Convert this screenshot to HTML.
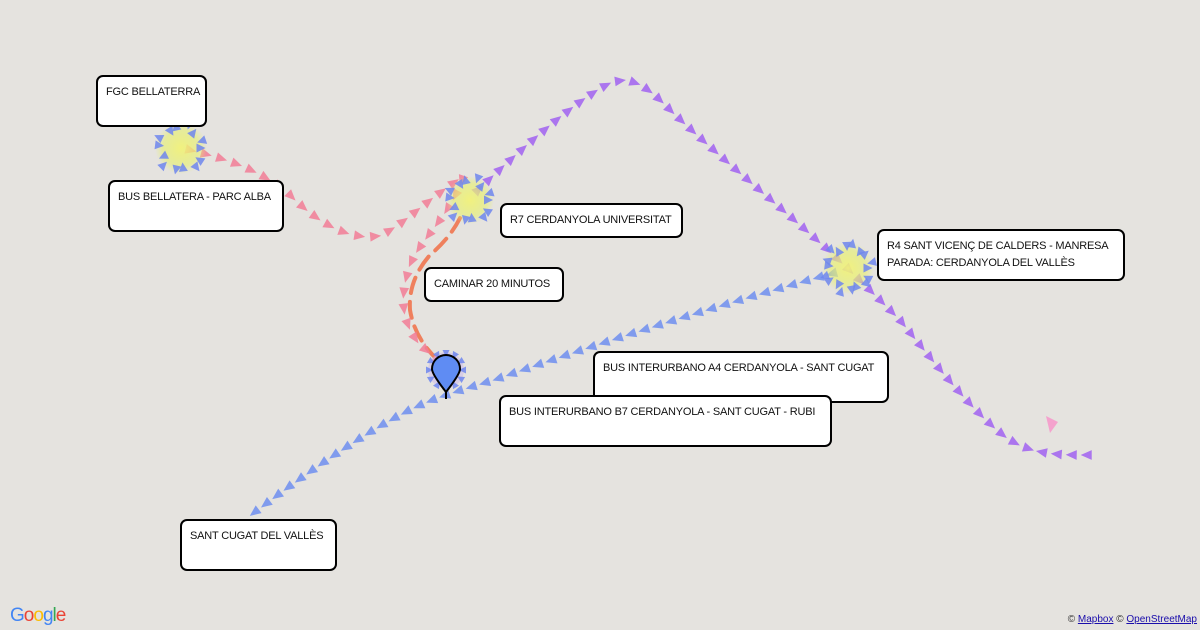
<!DOCTYPE html>
<html><head><meta charset="utf-8"><style>
html,body{margin:0;padding:0;width:1200px;height:630px;overflow:hidden;background:#e5e3df;font-family:"Liberation Sans",sans-serif}
.lb{position:absolute;background:#fff;border:2px solid #000;border-radius:7px;font-size:11px;color:#111;padding:7px 8px;box-sizing:border-box;line-height:17px;letter-spacing:-0.2px;white-space:nowrap}
svg{position:absolute;left:0;top:0}
</style></head><body>
<svg id="s" width="1200" height="630" viewBox="0 0 1200 630">
<defs>
<radialGradient id="g"><stop offset="0" stop-color="#f2f27a" stop-opacity="0.95"/><stop offset="0.7" stop-color="#e6f070" stop-opacity="0.6"/><stop offset="1" stop-color="#e6f070" stop-opacity="0"/></radialGradient>
</defs>
<path id="walk" d="M460,218 Q450,238 430,255 Q408,280 410,310 Q415,340 440,362" fill="none" stroke="#ef7a55" stroke-width="4" stroke-dasharray="16,9" stroke-linecap="round" opacity="0.95"/>
<g id="tri"></g>
<path d="M1046,416 L1058,422 L1050,433 Z" fill="#f59acb" opacity="0.9"/>
<g id="stars"></g>
<g transform="translate(446,372)">
<path d="M0,27 L0,20 Q-14,2 -14,-3 A14,14 0 1 1 14,-3 Q14,2 0,20" fill="#5f8cf3" stroke="#000" stroke-width="2"/>
</g>
</svg>
<div class="lb" style="left:96px;top:75px;width:111px;height:52px">FGC BELLATERRA</div>
<div class="lb" style="left:108px;top:180px;width:176px;height:52px">BUS BELLATERA - PARC ALBA</div>
<div class="lb" style="left:500px;top:203px;width:183px;height:35px">R7 CERDANYOLA UNIVERSITAT</div>
<div class="lb" style="left:424px;top:267px;width:140px;height:35px">CAMINAR 20 MINUTOS</div>
<div class="lb" style="left:877px;top:229px;width:248px;height:52px">R4 SANT VICENÇ DE CALDERS - MANRESA<br>PARADA: CERDANYOLA DEL VALLÈS</div>
<div class="lb" style="left:593px;top:351px;width:296px;height:52px">BUS INTERURBANO A4 CERDANYOLA - SANT CUGAT</div>
<div class="lb" style="left:499px;top:395px;width:333px;height:52px">BUS INTERURBANO B7 CERDANYOLA - SANT CUGAT - RUBI</div>
<div class="lb" style="left:180px;top:519px;width:157px;height:52px">SANT CUGAT DEL VALLÈS</div>
<div style="position:absolute;left:10px;top:605px;font-size:19px;font-family:'Liberation Sans',sans-serif;letter-spacing:-1px"><span style="color:#4285f4">G</span><span style="color:#ea4335">o</span><span style="color:#fbbc05">o</span><span style="color:#4285f4">g</span><span style="color:#34a853">l</span><span style="color:#ea4335">e</span></div>
<div style="position:absolute;right:3px;top:614px;font-size:10px;color:#333">© <u style="color:#1a0dab">Mapbox</u> © <u style="color:#1a0dab">OpenStreetMap</u></div>
<script>
var NS="http://www.w3.org/2000/svg",svg=document.getElementById('s'),G=document.getElementById('tri');
function line(d,col,gap,rev,sz,op,revFrom){
 var p=document.createElementNS(NS,'path');p.setAttribute('d',d);p.setAttribute('fill','none');svg.appendChild(p);
 var L=p.getTotalLength();
 for(var l=0;l<=L;l+=gap){var a=p.getPointAtLength(l),b=p.getPointAtLength(Math.min(L,l+1)),c=p.getPointAtLength(Math.max(0,l-1));
  var r=rev||(revFrom&&a.x>revFrom);
  var ang=Math.atan2(b.y-c.y,b.x-c.x)*180/Math.PI+(r?180:0);
  var t=document.createElementNS(NS,'path');t.setAttribute('d','M'+sz+',0 L'+(-sz*0.7)+','+(-sz*0.75)+' L'+(-sz*0.7)+','+(sz*0.75)+'Z');
  t.setAttribute('transform','translate('+a.x+','+a.y+') rotate('+ang+')');t.setAttribute('fill',col);t.setAttribute('opacity',op);G.appendChild(t);}
 svg.removeChild(p);}
line('M190,150 C230,160 260,170 290,195 C320,225 350,240 378,236 C400,228 420,205 465,175',"#f27d96",16,false,6.5,0.85);
line('M462,180 C450,215 420,240 410,265 C400,295 400,320 420,345 L440,362',"#f27d96",16,false,6.5,0.85);
line('M478,190 C520,150 560,115 590,95 C615,78 630,72 660,100 C700,140 760,190 800,225 C840,260 870,290 900,320 C940,370 980,420 1010,440 C1035,455 1060,455 1090,455',"#a468ef",15,false,6.5,0.9,1030);
line('M255,512 C300,478 360,435 410,410 C440,395 470,388 500,378 C580,350 700,310 845,270',"#6e8ef0",14,true,6.5,0.85);
var S=document.getElementById('stars');
function star(x,y,r,n){var c=document.createElementNS(NS,'circle');c.setAttribute('cx',x);c.setAttribute('cy',y);c.setAttribute('r',r);c.setAttribute('fill','url(#g)');S.appendChild(c);
 for(var i=0;i<n;i++){var a=i*360/n+(i%2)*7,rr=r*(0.75+(i%3)*0.1);var t=document.createElementNS(NS,'path');
  t.setAttribute('d','M5,0 L-4,-4.5 L-4,4.5Z');t.setAttribute('transform','rotate('+a+' '+x+' '+y+') translate('+(x+rr)+','+y+') rotate('+(i%2?180:0)+')');
  t.setAttribute('fill','#6f86ef');t.setAttribute('opacity',0.85);S.appendChild(t);}}
star(181,148,26,14);star(470,200,24,14);star(848,268,26,18);
var c=document.createElementNS(NS,'circle');c.setAttribute('cx',446);c.setAttribute('cy',370);c.setAttribute('r',18);c.setAttribute('fill','#c9b8f0');c.setAttribute('opacity',0.5);S.appendChild(c);
for(var i=0;i<12;i++){var t=document.createElementNS(NS,'path');t.setAttribute('d','M4,0 L-3,-3.5 L-3,3.5Z');t.setAttribute('transform','rotate('+(i*30)+' 446 370) translate(463,370) rotate(180)');t.setAttribute('fill','#6f86ef');t.setAttribute('opacity',0.85);S.appendChild(t);}
</script>
</body></html>
